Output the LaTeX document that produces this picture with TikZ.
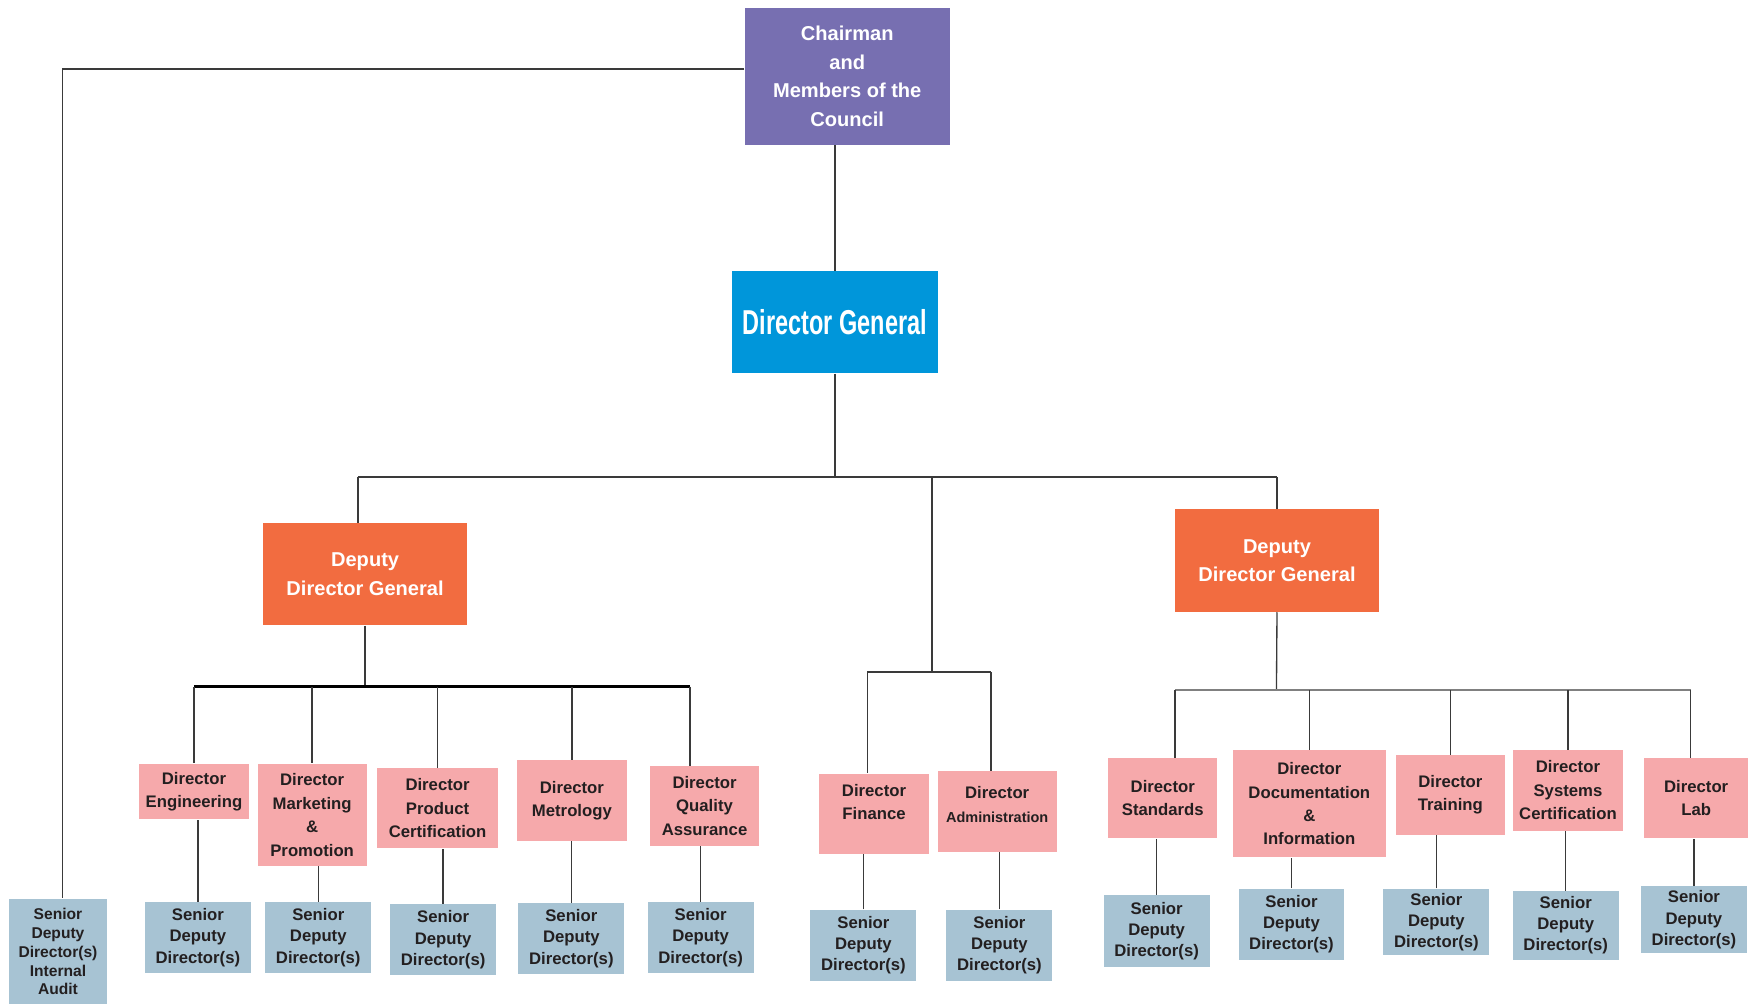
\documentclass[tikz,border=0pt]{standalone}
\usepackage{fontspec}
\setmainfont{Liberation Sans}
\usepackage{graphicx}
\usetikzlibrary{positioning}

\definecolor{chaircol}{HTML}{776FB1}
\definecolor{dgcol}{HTML}{0096DA}
\definecolor{ddgcol}{HTML}{F26C40}
\definecolor{dircol}{HTML}{F6A9AB}
\definecolor{sddcol}{HTML}{A7C3D3}
\definecolor{linecol}{HTML}{3A3A3A}
\definecolor{txtcol}{HTML}{231F20}

\begin{document}
\begin{tikzpicture}[x=1pt, y=-1pt,
    box/.style={inner sep=0pt, align=center, font=\bfseries},
    topbox/.style={box, text=white, font=\fontsize{18}{25.5}\selectfont\bfseries},
    dirbox/.style={box, fill=dircol, text=txtcol, font=\fontsize{15}{21}\selectfont\bfseries, minimum height=72pt},
    sddbox/.style={box, fill=sddcol, text=txtcol, font=\fontsize{15}{19}\selectfont\bfseries, minimum width=95pt, minimum height=64pt},
    link/.style={draw=linecol, line width=1.2pt}]
    \useasboundingbox (0, 0) rectangle (1568, 901);

    % Top
    \node[topbox, fill=chaircol, minimum width=184pt, minimum height=123pt] (chair) at (760, 68.5) {Chairman\\and\\Members of the\\Council};
    \node[box, fill=dgcol, text=white, minimum width=184pt, minimum height=92pt] (dg) at (749, 289) {\scalebox{0.68}[1]{\fontsize{31}{31}\selectfont Director General}};

    % Deputies
    \node[topbox, fill=ddgcol, minimum width=183pt, minimum height=92pt] (ddg1) at (327.5, 515) {Deputy\\Director General};
    \node[topbox, fill=ddgcol, minimum width=183pt, minimum height=92pt] (ddg2) at (1145.5, 503) {Deputy\\Director General};

    % Directors
    \node[dirbox, minimum width=98pt, minimum height=50pt] (dir1) at (174, 710) {Director\\Engineering};
    \node[dirbox, minimum width=98pt, minimum height=92pt] (dir2) at (280, 731) {Director\\Marketing\\\&\\Promotion};
    \node[dirbox, minimum width=109pt] (dir3) at (392.5, 725) {Director\\Product\\Certification};
    \node[dirbox, minimum width=98pt] (dir4) at (513, 718) {Director\\Metrology};
    \node[dirbox, minimum width=98pt] (dir5) at (632, 723) {Director\\Quality\\Assurance};
    \node[dirbox, minimum width=98pt] (dir6) at (784, 730) {Director\\Finance\\~};
    \node[dirbox, minimum width=107pt] (dir7) at (894.5, 728) {Director\\{\fontsize{13}{18}\selectfont Administration}\\[-8pt]~};
    \node[dirbox, minimum width=98pt] (dir8) at (1043, 716) {Director\\Standards};
    \node[dirbox, minimum width=137pt, minimum height=96pt] (dir9) at (1174.5, 721) {Director\\Documentation\\\&\\Information};
    \node[dirbox, minimum width=98pt] (dir10) at (1301, 713) {Director\\Training};
    \node[dirbox, minimum width=99pt] (dir11) at (1406.5, 709) {Director\\Systems\\Certification};
    \node[dirbox, minimum width=93pt] (dir12) at (1521.5, 716) {Director\\Lab};

    % Senior deputy directors
    \node[sddbox, minimum width=88pt, minimum height=95pt, font=\fontsize{14}{17}\selectfont\bfseries] (sdd0) at (52, 853.5) {Senior\\Deputy\\Director(s)\\Internal\\Audit};
    \node[sddbox] (sdd1) at (177.5, 841) {Senior\\Deputy\\Director(s)};
    \node[sddbox] (sdd2) at (285.5, 841) {Senior\\Deputy\\Director(s)};
    \node[sddbox] (sdd3) at (397.5, 843) {Senior\\Deputy\\Director(s)};
    \node[sddbox] (sdd4) at (512.5, 842) {Senior\\Deputy\\Director(s)};
    \node[sddbox] (sdd5) at (628.5, 841) {Senior\\Deputy\\Director(s)};
    \node[sddbox] (sdd6) at (774.5, 848) {Senior\\Deputy\\Director(s)};
    \node[sddbox] (sdd7) at (896.5, 848) {Senior\\Deputy\\Director(s)};
    \node[sddbox] (sdd8) at (1037.5, 835) {Senior\\Deputy\\Director(s)};
    \node[sddbox] (sdd9) at (1158.5, 829) {Senior\\Deputy\\Director(s)};
    \node[sddbox, minimum height=60pt] (sdd10) at (1288.5, 827) {Senior\\Deputy\\Director(s)};
    \node[sddbox, minimum height=62pt] (sdd11) at (1404.5, 830) {Senior\\Deputy\\Director(s)};
    \node[sddbox, minimum height=60pt] (sdd12) at (1519.5, 825) {Senior\\Deputy\\Director(s)};

    % Bus points
    \coordinate (top) at (753, 428);
    \coordinate (mid) at (836, 603);
    \coordinate (bus1) at (326, 616);
    \coordinate (bus2) at (1145, 619);
    \coordinate (left) at ([xshift=-6.5pt]ddg1.north);
    \coordinate (audit) at ([xshift=4pt]sdd0.north);
    \coordinate (qa) at ([xshift=-13pt]dir5.north);
    \coordinate (fin) at ([xshift=-6pt]dir6.north);
    \coordinate (adm) at ([xshift=-5.5pt]dir7.north);
    \coordinate (std) at ([xshift=11pt]dir8.north);
    \coordinate (lab) at ([xshift=-5pt]dir12.north);

    % Connections
    \draw[link] (dg.north) -- (dg.north |- chair.south);
    \draw[link] ([yshift=6.5pt]chair.west) -| (audit);
    \draw[link] (dg.south) -- (dg.south |- top);
    \draw[link] (left |- top) -- (ddg2.north |- top);
    \draw[link] (left |- top) -- (left);
    \draw[link] (ddg2.north |- top) -- (ddg2.north);
    \draw[link] (mid |- top) -- (mid);

    \draw[link] (ddg1.south) -- (ddg1.south |- bus1);
    \draw[link, draw=black, line width=2.5pt] (dir1.north |- bus1) -- (qa |- bus1);
    \draw[link] (dir1.north |- bus1) -- (dir1.north);
    \draw[link] (dir2.north |- bus1) -- (dir2.north);
    \draw[link] (dir3.north |- bus1) -- (dir3.north);
    \draw[link] (dir4.north |- bus1) -- (dir4.north);
    \draw[link] (qa |- bus1) -- (qa);

    \draw[link, line width=2pt] (fin |- mid) -- (adm |- mid);
    \draw[link] (fin |- mid) -- (fin);
    \draw[link] (adm |- mid) -- (adm);

    \draw[link] (ddg2.south) -- (bus2);
    \draw[link, draw=gray, line width=2pt] (std |- bus2) -- (lab |- bus2);
    \draw[link] (std |- bus2) -- (std);
    \draw[link] (dir9.north |- bus2) -- (dir9.north);
    \draw[link] (dir10.north |- bus2) -- (dir10.north);
    \draw[link] (dir11.north |- bus2) -- (dir11.north);
    \draw[link] (lab |- bus2) -- (lab);

    \draw[link] (sdd1.north) -- (sdd1.north |- dir1.south);
    \draw[link] (sdd2.north) -- (sdd2.north |- dir2.south);
    \draw[link] (sdd3.north) -- (sdd3.north |- dir3.south);
    \draw[link] (sdd4.north) -- (sdd4.north |- dir4.south);
    \draw[link] (sdd5.north) -- (sdd5.north |- dir5.south);
    \draw[link] (sdd6.north) -- (sdd6.north |- dir6.south);
    \draw[link] (sdd7.north) -- (sdd7.north |- dir7.south);
    \draw[link] (sdd8.north) -- (sdd8.north |- dir8.south);
    \draw[link] (sdd9.north) -- (sdd9.north |- dir9.south);
    \draw[link] (sdd10.north) -- (sdd10.north |- dir10.south);
    \draw[link] (sdd11.north) -- (sdd11.north |- dir11.south);
    \draw[link] (sdd12.north) -- (sdd12.north |- dir12.south);

\end{tikzpicture}
\end{document}
